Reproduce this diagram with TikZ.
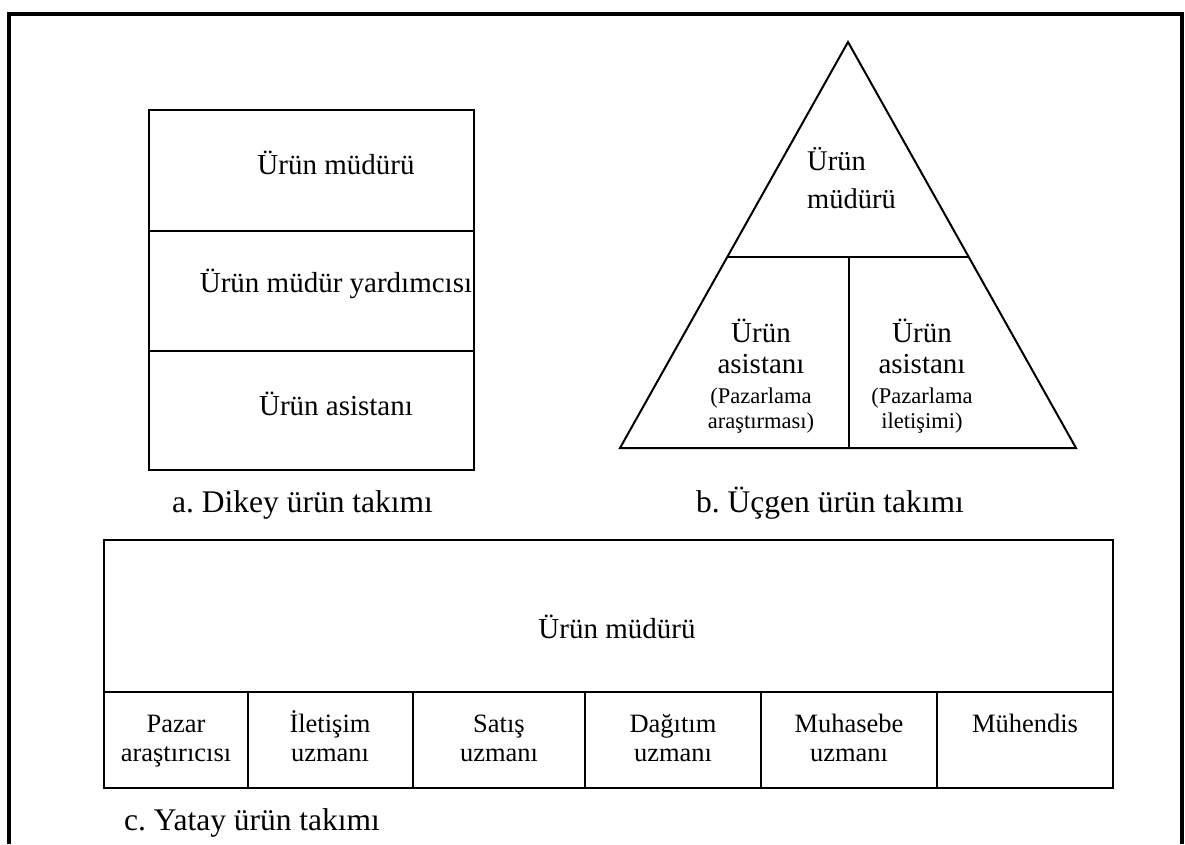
\documentclass[tikz,border=0pt]{standalone}
\usepackage{fontspec}
\setmainfont{Liberation Serif}
\frenchspacing
\begin{document}
\begin{tikzpicture}[x=1pt,y=-1pt,
  frame/.style={line width=4pt},
  box/.style={line width=2pt},
  lbl/.style={anchor=base, inner sep=0pt},
  big/.style={lbl, font=\fontsize{29}{33}\selectfont},
  mid/.style={lbl, font=\fontsize{29}{33}\selectfont},
  cell/.style={lbl, font=\fontsize{26.5}{30}\selectfont},
  note/.style={lbl, font=\fontsize{22.5}{26}\selectfont},
  caption/.style={anchor=base west, inner sep=0pt, font=\fontsize{31.5}{36}\selectfont}]
\useasboundingbox (0,0) rectangle (1185,844);

% open outer frame
\draw[frame] (9,844) -- (9,13.5) -- (1182,13.5) -- (1182,844);

% a. vertical team
\draw[box] (149,110) rectangle (474,470);
\draw[box] (149,231) -- (474,231);
\draw[box] (149,351) -- (474,351);
\node[mid] (a1) at (336,174) {Ürün müdürü};
\node[mid] (a2) at (336,292) {Ürün müdür yardımcısı};
\node[mid] (a3) at (336,415) {Ürün asistanı};
\node[caption] (acap) at (172,512) {a. Dikey ürün takımı};

% b. triangle team
\draw[box, line join=miter] (620,448) -- (848,42) -- (1076,448) -- cycle;
\draw[box] (727,257) -- (969,257);
\draw[box] (849,257) -- (849,448);
\node[lbl, anchor=base west, font=\fontsize{28.5}{32}\selectfont] (b1) at (807,170) {Ürün};
\node[lbl, anchor=base west, font=\fontsize{28.5}{32}\selectfont] (b2) at (807,208) {müdürü};
\node[mid] (bl1) at (761,342) {Ürün};
\node[mid] (bl2) at (761,373) {asistanı};
\node[note] (bl3) at (761,403) {(Pazarlama};
\node[note] (bl4) at (761,428) {araştırması)};
\node[mid] (br1) at (922,342) {Ürün};
\node[mid] (br2) at (922,373) {asistanı};
\node[note] (br3) at (922,403) {(Pazarlama};
\node[note] (br4) at (922,428) {iletişimi)};
\node[caption] (bcap) at (696,512) {b. Üçgen ürün takımı};

% c. horizontal team
\draw[box] (104,540) rectangle (1113,788);
\draw[box] (104,692) -- (1113,692);
\foreach \x in {248,413,585,761,937} \draw[box] (\x,692) -- (\x,788);
\node[big] (c0) at (617,638) {Ürün müdürü};
\node[cell] (c1a) at (176,732) {Pazar};
\node[cell] (c1b) at (176,761) {araştırıcısı};
\node[cell] (c2a) at (330,732) {İletişim};
\node[cell] (c2b) at (330,761) {uzmanı};
\node[cell] (c3a) at (499,732) {Satış};
\node[cell] (c3b) at (499,761) {uzmanı};
\node[cell] (c4a) at (673,732) {Dağıtım};
\node[cell] (c4b) at (673,761) {uzmanı};
\node[cell] (c5a) at (849,732) {Muhasebe};
\node[cell] (c5b) at (849,761) {uzmanı};
\node[cell] (c6a) at (1025,732) {Mühendis};
\node[caption] (ccap) at (124,830) {c. Yatay ürün takımı};
\end{tikzpicture}
\end{document}
